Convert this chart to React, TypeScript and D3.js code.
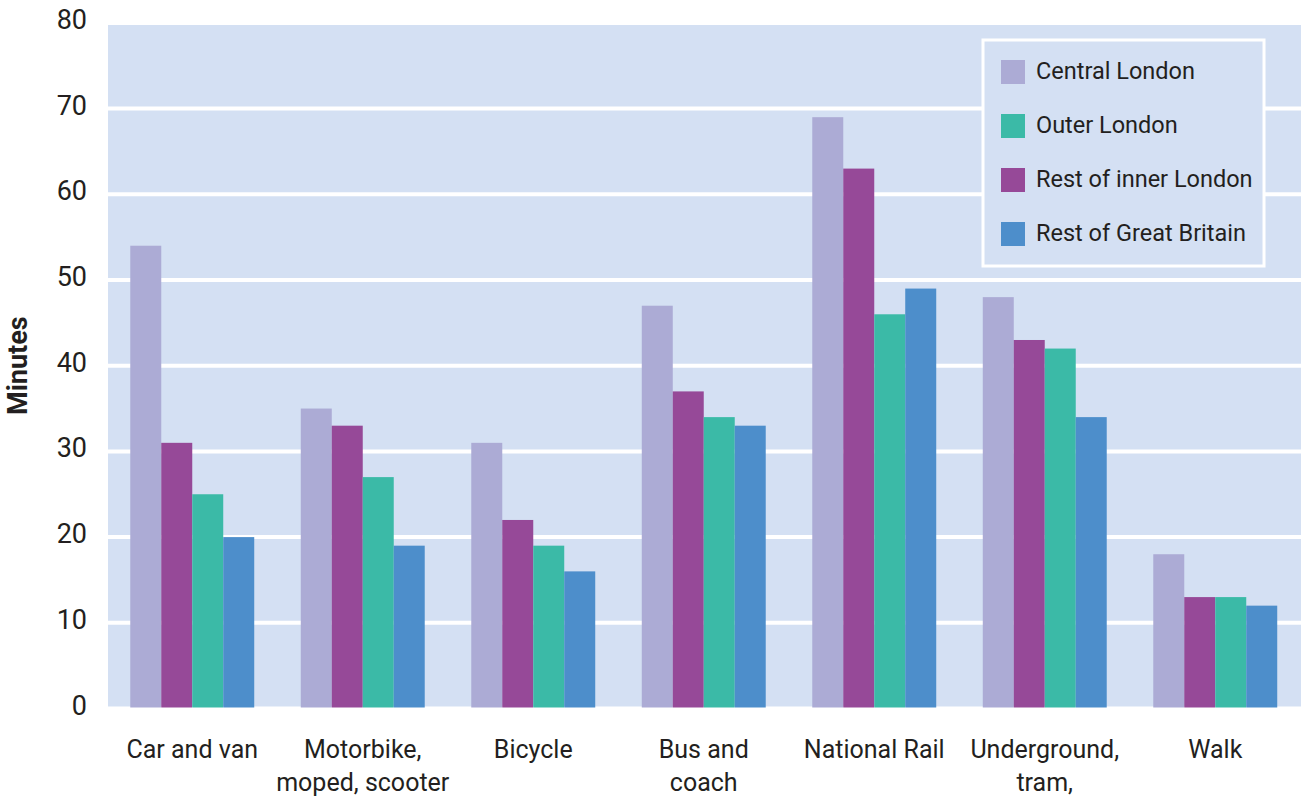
import React from "react";
import * as d3 from "d3";

// Average journey time to work by mode and region of workplace (minutes)
const categories: string[][] = [
  ["Car and van"],
  ["Motorbike,", "moped, scooter"],
  ["Bicycle"],
  ["Bus and", "coach"],
  ["National Rail"],
  ["Underground,", "tram,"],
  ["Walk"],
];

const centralLondon = [54, 35, 31, 47, 69, 48, 18];
const restOfInnerLondon = [31, 33, 22, 37, 63, 43, 13];
const outerLondon = [25, 27, 19, 34, 46, 42, 13];
const restOfGreatBritain = [20, 19, 16, 33, 49, 34, 12];

const yTicks = [0, 10, 20, 30, 40, 50, 60, 70, 80];

// bar order within each group
const barSeries = [
  { name: "Central London", values: centralLondon, color: "#acabd5" },
  { name: "Rest of inner London", values: restOfInnerLondon, color: "#964998" },
  { name: "Outer London", values: outerLondon, color: "#3bbaa7" },
  { name: "Rest of Great Britain", values: restOfGreatBritain, color: "#4d8ecb" },
];

// legend order
const legendOrder = ["Central London", "Outer London", "Rest of inner London", "Rest of Great Britain"];

const W = 1301;
const H = 798;
const BG = "#d4e0f3";
const TEXT = "#231f20";
const FONT = "Roboto, 'Open Sans', sans-serif";

export default function App() {
  const x = d3
    .scaleBand<number>()
    .domain(d3.range(categories.length))
    .range([107, 107 + 7 * 170.5])
    .paddingInner(0.273)
    .paddingOuter(0.1365);

  const x1 = d3
    .scaleBand<number>()
    .domain(d3.range(barSeries.length))
    .range([0, x.bandwidth()]);

  const y = d3.scaleLinear().domain([0, 80]).range([708.5, 22.9]);

  const plotLeft = 108;
  const colorOf = (n: string) => barSeries.find((s) => s.name === n)!.color;

  return (
    <svg
      width={W}
      height={H}
      style={{ position: "absolute", left: 0, top: 0, background: "#fff" }}
      fontFamily={FONT}
    >
      {/* plot background */}
      <rect x={plotLeft} y={y(80)} width={W - plotLeft} height={y(0) - y(80)} fill={BG} />

      {/* gridlines */}
      {yTicks.map((t) => (
        <line key={t} x1={plotLeft} x2={W} y1={y(t)} y2={y(t)} stroke="#fff" strokeWidth={4} />
      ))}

      {/* bars */}
      {categories.map((_, i) => (
        <g key={i} transform={`translate(${x(i)},0)`}>
          {barSeries.map((s, j) => (
            <rect
              key={s.name}
              x={x1(j)}
              y={y(s.values[i])}
              width={x1.bandwidth()}
              height={y(0) - y(s.values[i])}
              fill={s.color}
            />
          ))}
        </g>
      ))}

      {/* baseline */}
      <line x1={plotLeft} x2={W} y1={y(0) + 1} y2={y(0) + 1} stroke="#fff" strokeWidth={4} />

      {/* y tick labels */}
      {yTicks.map((t) => (
        <text key={t} x={87} y={y(t) + 6} textAnchor="end" fontSize={27} fill={TEXT}>
          {t}
        </text>
      ))}

      {/* y axis title */}
      <text
        transform={`translate(27,${y(40)}) rotate(-90)`}
        textAnchor="middle"
        fontSize={27}
        fontWeight="bold"
        fill={TEXT}
      >
        Minutes
      </text>

      {/* x category labels */}
      {categories.map((lines, i) => (
        <text
          key={i}
          x={(x(i) as number) + x.bandwidth() / 2}
          y={758}
          textAnchor="middle"
          fontSize={25}
          fill={TEXT}
        >
          {lines.map((l, k) => (
            <tspan key={k} x={(x(i) as number) + x.bandwidth() / 2} dy={k === 0 ? 0 : 33}>
              {l}
            </tspan>
          ))}
        </text>
      ))}

      {/* legend */}
      <g>
        <rect x={983} y={40} width={281} height={226} fill={BG} stroke="#fff" strokeWidth={3} />
        {legendOrder.map((n, i) => (
          <g key={n} transform={`translate(0,${72 + i * 54})`}>
            <rect x={1001} y={-12} width={24} height={24} fill={colorOf(n)} />
            <text x={1036} y={7} fontSize={23.5} fill={TEXT}>
              {n}
            </text>
          </g>
        ))}
      </g>
    </svg>
  );
}
